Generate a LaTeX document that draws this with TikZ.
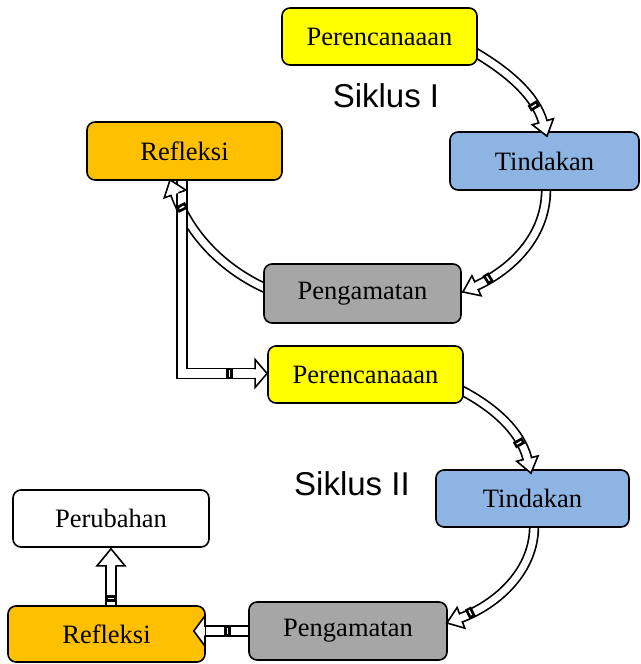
\documentclass[tikz,border=0pt]{standalone}
\usepackage{fontspec}
\setmainfont{Liberation Serif}
\newfontfamily\sikfont{Liberation Sans}
\usetikzlibrary{calc,decorations.markings}
\pgfdeclarelayer{bg}
\pgfsetlayers{bg,main}
\definecolor{cyel}{HTML}{FFFF00}
\definecolor{cblu}{HTML}{8DB4E2}
\definecolor{corg}{HTML}{FFC000}
\definecolor{cgry}{HTML}{A6A6A6}
\newcommand\blockarr[5]{%
  \begin{pgfonlayer}{bg}
  \draw[line width=#2+3.4pt, shorten >=#4-0.5pt, line join=miter] #1;
  \draw[white, line width=#2, shorten >=#4-0.5pt, line join=miter] #1;
  \end{pgfonlayer}
  \path[decorate, decoration={markings,
     mark=at position #5 with {\fill (-3.5pt,-#2/2-1.7pt) rectangle (3.5pt,#2/2+1.7pt); \fill[white] (-0.7pt,-#2/2+0.8pt) rectangle (0.7pt,#2/2-0.8pt);},
     mark=at position 0.9995 with {\filldraw[fill=white, line width=1.6pt, line join=miter] (-#4,#2/2) -- (-#4,#3/2) -- (0,0) -- (-#4,-#3/2) -- (-#4,-#2/2);}}] #1;
}
\begin{document}
\begin{tikzpicture}[x=1pt,y=-1pt,
  box/.style={draw, rounded corners=8pt, line width=1.6pt, inner sep=0pt,
    font=\fontsize{26.5}{30}\selectfont},
  sik/.style={font=\sikfont\fontsize{33}{38}\selectfont, inner sep=0pt}]
\useasboundingbox (0,0) rectangle (640,664);
% nodes
\node[box, fill=cyel, minimum width=195pt, minimum height=57pt] (P1) at (379.5,36.5) {Perencanaaan};
\node[box, fill=cblu, minimum width=189pt, minimum height=58pt] (T1) at (544.5,161) {Tindakan};
\node[box, fill=corg, minimum width=195pt, minimum height=58pt] (R1) at (184.5,151) {Refleksi};
\node[box, fill=cgry, minimum width=197pt, minimum height=59pt] (G1) at (362.5,293.5) {Pengamatan};
\node[box, fill=cyel, minimum width=195pt, minimum height=57pt] (P2) at (365.5,374.5) {Perencanaaan};
\node[box, fill=cblu, minimum width=193pt, minimum height=57pt] (T2) at (532.5,498.5) {Tindakan};
\node[box, fill=white, minimum width=196pt, minimum height=57pt] (U) at (111,518.5) {Perubahan};
\node[box, fill=corg, minimum width=197pt, minimum height=56pt] (R2) at (106.5,634) {Refleksi};
\node[box, fill=cgry, minimum width=198pt, minimum height=58pt] (G2) at (348,631) {Pengamatan};
\node[sik] (S1) at (386,96) {Siklus I};
\node[sik] (S2) at (352,484) {Siklus II};
% connector end points
\coordinate (a1s) at ($(P1.east)+(-7,13.5)$);
\coordinate (a1e) at ($(T1.north)+(2.5,5)$);
\coordinate (a2s) at ($(T1.south)+(1.5,-5)$);
\coordinate (a2e) at ($(G1.east)+(1,-1.5)$);
\coordinate (a3s) at ($(G1.west)+(4,-4.5)$);
\coordinate (a3e) at ($(R1.south)+(-14.5,-1)$);
\coordinate (a4s) at ($(R1.south)+(-2.5,-4)$);
\coordinate (a4e) at ($(P2.west)+(0,-1)$);
\coordinate (a5s) at ($(P2.east)+(-7,13.5)$);
\coordinate (a5e) at ($(T2.north)+(-1.5,4)$);
\coordinate (a6s) at ($(T2.south)+(1.5,-5)$);
\coordinate (a6e) at ($(G2.east)+(-1,-8)$);
\coordinate (a7s) at ($(G2.west)+(6,0)$);
\coordinate (a7e) at ($(R2.east)+(-12,-3)$);
\coordinate (a8s) at ($(R2.north)+(4.5,4)$);
\coordinate (a8e) at ($(U.south)+(0,1)$);
% connectors
\blockarr{(a1s) .. controls ($(a1s)+(35,20)$) and ($(a1e)+(-12,-42)$) .. (a1e)}{7pt}{22pt}{15pt}{0.72}
\blockarr{(a2s) .. controls ($(a2s)+(2,50)$) and ($(a2e)+(48,-22)$) .. (a2e)}{7pt}{22pt}{15pt}{0.8}
\blockarr{(a3s) .. controls ($(a3s)+(-43,-19)$) and ($(a3e)+(20,56)$) .. (a3e)}{7pt}{23pt}{15pt}{0.8}
\blockarr{(a4s) |- (a4e)}{8.5pt}{28pt}{12pt}{0.866}
\blockarr{(a5s) .. controls ($(a5s)+(34,17)$) and ($(a5e)+(-11,-44)$) .. (a5e)}{7pt}{22pt}{15pt}{0.72}
\blockarr{(a6s) .. controls ($(a6s)+(2,48)$) and ($(a6e)+(49,-18)$) .. (a6e)}{7pt}{22pt}{15pt}{0.82}
\blockarr{(a7s) -- (a7e)}{8.5pt}{30pt}{11pt}{0.44}
\blockarr{(a8s) -- (a8e)}{8.5pt}{28pt}{17pt}{0.18}
\end{tikzpicture}
\end{document}
